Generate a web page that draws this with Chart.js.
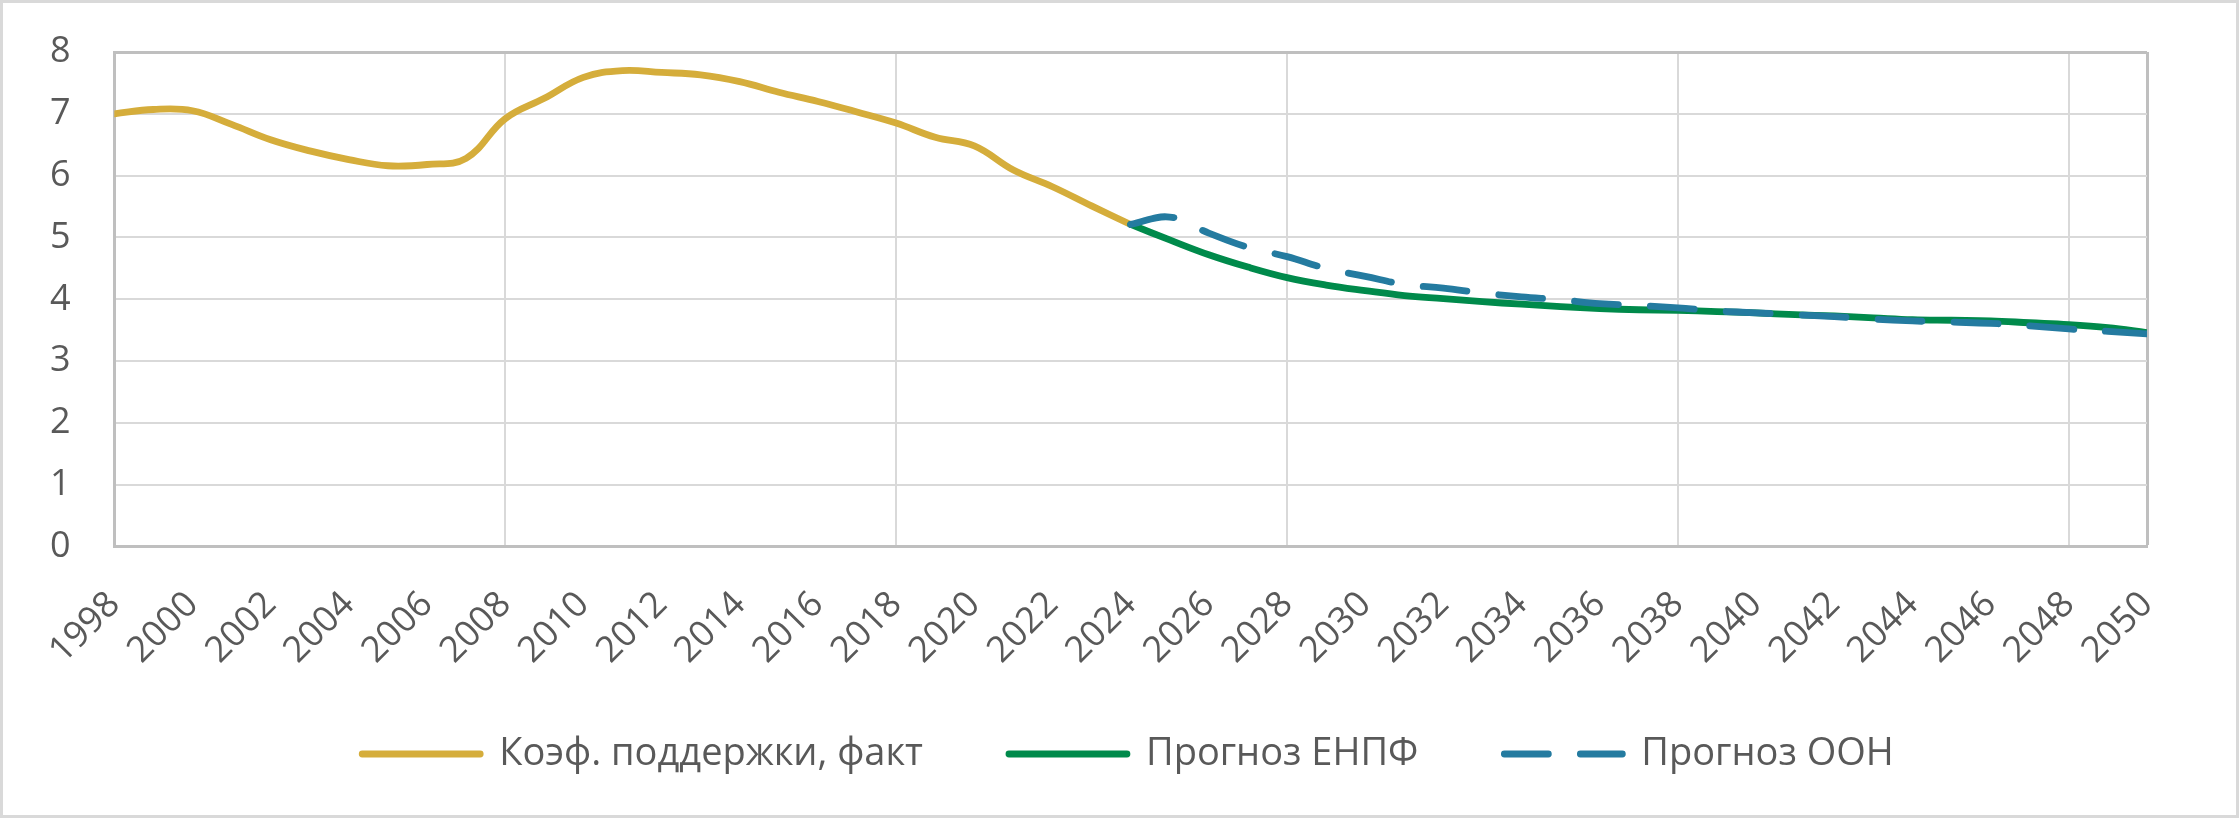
<!DOCTYPE html>
<html>
<head>
<meta charset="utf-8">
<script src="https://cdn.jsdelivr.net/npm/chart.js@4.4.1/dist/chart.umd.min.js"></script>
<style>
    html, body { margin: 0; padding: 0; background: #fff; }
    #wrap { width: 2239px; height: 818px; box-sizing: border-box; border: 3px solid #d9d9d9; }
    canvas { display: block; }
</style>
</head>
<body>
<div id="wrap"><canvas id="chart" width="2233" height="812"></canvas></div>
<script>
const factYears = [1998, 1999, 2000, 2001, 2002, 2003, 2004, 2005, 2006, 2007, 2008, 2009, 2010, 2011,
    2012, 2013, 2014, 2015, 2016, 2017, 2018, 2019, 2020, 2021, 2022, 2023, 2024];
const factValues = [7.00, 7.07, 7.05, 6.83, 6.58, 6.40, 6.26, 6.16, 6.18, 6.28, 6.92, 7.25, 7.59, 7.70,
    7.67, 7.63, 7.52, 7.35, 7.20, 7.03, 6.85, 6.62, 6.48, 6.09, 5.82, 5.51, 5.21];

const forecastYears = [2024, 2025, 2026, 2027, 2028, 2029, 2030, 2031, 2032, 2033, 2034, 2035, 2036, 2037,
    2038, 2039, 2040, 2041, 2042, 2043, 2044, 2045, 2046, 2047, 2048, 2049, 2050];
const enpfValues = [5.21, 4.96, 4.72, 4.52, 4.35, 4.23, 4.14, 4.06, 4.01, 3.96, 3.92, 3.88, 3.85, 3.83,
    3.82, 3.80, 3.78, 3.75, 3.73, 3.70, 3.67, 3.66, 3.65, 3.62, 3.59, 3.54, 3.46];
const oonValues = [5.21, 5.33, 5.07, 4.84, 4.69, 4.50, 4.37, 4.24, 4.18, 4.10, 4.04, 3.99, 3.93, 3.90,
    3.86, 3.81, 3.78, 3.75, 3.72, 3.68, 3.65, 3.63, 3.61, 3.57, 3.52, 3.48, 3.44];

const seriesNames = ['Коэф. поддержки, факт', 'Прогноз ЕНПФ', 'Прогноз ООН'];

function toPoints(xs, ys) {
    return xs.map(function (x, i) {
        return { x: x, y: ys[i] };
    });
}

const textColor = '#595959';
const gridColor = '#d9d9d9';
const frameColor = '#bfbfbf';

// legend row sits higher than its padding would put it
const legendLift = {
    id: 'legendLift',
    afterLayout: function (chart) {
        const lg = chart.legend;
        const h = lg.bottom - lg.top;
        lg.top = 646;
        lg.bottom = lg.top + h;
    }
};

const ctx = document.getElementById('chart');

new Chart(ctx, {
    type: 'line',
    data: {
        datasets: [{
            label: seriesNames[0],
            data: toPoints(factYears, factValues),
            borderColor: '#d5ad3b',
            order: 3
        }, {
            label: seriesNames[1],
            data: toPoints(forecastYears, enpfValues),
            borderColor: '#008a4b',
            order: 2
        }, {
            label: seriesNames[2],
            data: toPoints(forecastYears, oonValues),
            borderColor: '#247ba0',
            borderDash: [44, 32],
            order: 1
        }]
    },
    options: {
        responsive: false,
        animation: false,
        devicePixelRatio: 1,
        elements: {
            line: {
                borderWidth: 6.8,
                tension: 0.4,
                borderCapStyle: 'round',
                borderJoinStyle: 'round',
                fill: false
            },
            point: { radius: 0, hoverRadius: 0 }
        },
        layout: {
            padding: { left: 47, right: 30, top: 49, bottom: 0 }
        },
        scales: {
            x: {
                type: 'linear',
                min: 1998,
                max: 2050,
                afterFit: function (scale) { scale.height = 134.5; },
                border: { color: frameColor, width: 3 },
                grid: {
                    drawTicks: false,
                    lineWidth: function (c) { return c.tick.value === 2050 ? 3 : 2; },
                    color: function (c) {
                        const v = c.tick.value;
                        if (v === 2050) return frameColor;
                        return (v - 1998) % 10 === 0 ? gridColor : 'rgba(0,0,0,0)';
                    }
                },
                ticks: {
                    stepSize: 2,
                    autoSkip: false,
                    minRotation: 45,
                    maxRotation: 45,
                    padding: 37,
                    color: textColor,
                    font: { family: 'Open Sans', size: 36 },
                    callback: function (value) { return String(value); }
                }
            },
            y: {
                min: 0,
                max: 8,
                afterFit: function (scale) { scale.width = 64.3; },
                border: { color: frameColor, width: 3 },
                grid: {
                    drawTicks: false,
                    lineWidth: function (c) { return c.tick.value === 8 ? 3 : 2; },
                    color: function (c) { return c.tick.value === 8 ? frameColor : gridColor; }
                },
                ticks: {
                    stepSize: 1,
                    padding: 0,
                    crossAlign: 'far',
                    color: textColor,
                    font: { family: 'Open Sans', size: 36 }
                }
            },
            yRight: {
                position: 'right',
                min: 0,
                max: 8,
                afterFit: function (scale) { scale.width = 59; },
                border: { display: false },
                grid: { display: false, drawTicks: false },
                ticks: { display: false }
            }
        },
        plugins: {
            tooltip: { enabled: false },
            legend: {
                position: 'bottom',
                labels: {
                    usePointStyle: true,
                    pointStyle: 'line',
                    pointStyleWidth: 118,
                    padding: 86,
                    color: textColor,
                    font: { family: 'Open Sans', size: 38 },
                    sort: function (a, b) { return a.datasetIndex - b.datasetIndex; },
                    generateLabels: function (chart) {
                        const items = Chart.defaults.plugins.legend.labels.generateLabels(chart);
                        return items.map(function (item) {
                            const ds = chart.data.datasets[item.datasetIndex];
                            item.lineWidth = 6.8;
                            item.lineCap = 'round';
                            item.lineDash = ds.borderDash || [];
                            item.strokeStyle = ds.borderColor;
                            return item;
                        });
                    }
                }
            }
        }
    },
    plugins: [legendLift]
});
</script>
</body>
</html>
